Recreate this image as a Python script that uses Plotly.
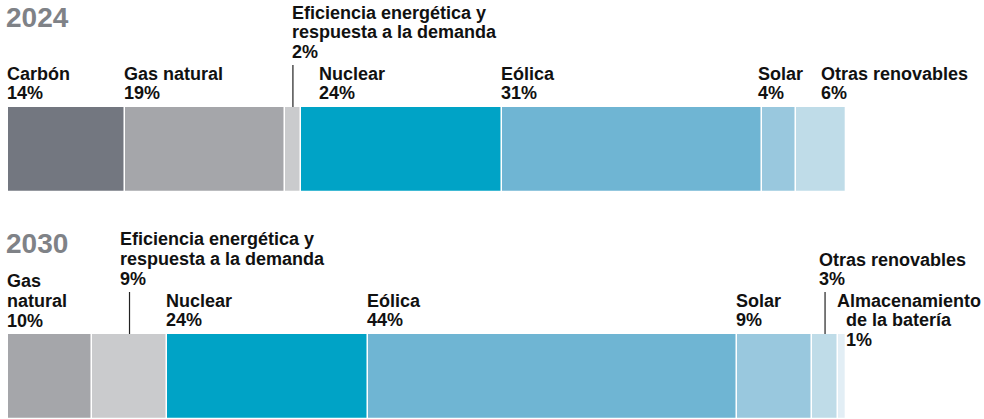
import numpy as np
import plotly.graph_objects as go

# ---------------- data ----------------
years = ["2024", "2030"]

cats_2024 = ["Carbón", "Gas natural", "Eficiencia energética y respuesta a la demanda",
             "Nuclear", "Eólica", "Solar", "Otras renovables"]
vals_2024 = [14, 19, 2, 24, 31, 4, 6]

cats_2030 = ["Gas natural", "Eficiencia energética y respuesta a la demanda",
             "Nuclear", "Eólica", "Solar", "Otras renovables", "Almacenamiento de la batería"]
vals_2030 = [10, 9, 24, 44, 9, 3, 1]

# ---------------- styles ----------------
colors = {
    "Carbón": "#737780",
    "Gas natural": "#a5a6aa",
    "Eficiencia energética y respuesta a la demanda": "#cacbcd",
    "Nuclear": "#00a3c6",
    "Eólica": "#6fb5d3",
    "Solar": "#99c8de",
    "Otras renovables": "#bfdce8",
    "Almacenamiento de la batería": "#e2eef5",
}

W, H = 984, 419
X0_PX, X100_PX = 8, 846  # bar extent in pixels
SCALE = (X100_PX - X0_PX) / 100.0
FONT = "Liberation Sans"
LBL_SIZE = 18
TITLE_SIZE = 28
TXT = "#111111"
TITLE_C = "#7f8287"
BASE_K = 6.2  # baseline -> middle offset (px) at 18px

# bar geometry (pixel space on y)
bar_top = {"2024": 107, "2030": 334}
bar_h = 85
title_base = {"2024": 27, "2030": 253}

# label layout: category -> (lines, first baseline offset from bar top, x offset px)
lay_2024 = {
    "Carbón": (["Carbón"], -27, 0),
    "Gas natural": (["Gas natural"], -27, 0),
    "Eficiencia energética y respuesta a la demanda":
        (["Eficiencia energética y", "respuesta a la demanda"], -88, "center"),
    "Nuclear": (["Nuclear"], -27, 19),
    "Eólica": (["Eólica"], -27, 0),
    "Solar": (["Solar"], -27, -3),
    "Otras renovables": (["Otras renovables"], -27, 26),
}
lay_2030 = {
    "Gas natural": (["Gas", "natural"], -46.5, 0),
    "Eficiencia energética y respuesta a la demanda":
        (["Eficiencia energética y", "respuesta a la demanda"], -88.5, 29),
    "Nuclear": (["Nuclear"], -27, 0),
    "Eólica": (["Eólica"], -27, 0),
    "Solar": (["Solar"], -27, 0),
    "Otras renovables": (["Otras renovables"], -68, 7.5),
    "Almacenamiento de la batería": (["Almacenamiento"], -27, 0),
}
LINE_H = 19.6
leaders = {"2024": ["Eficiencia energética y respuesta a la demanda"],
           "2030": ["Eficiencia energética y respuesta a la demanda", "Otras renovables"]}
leader_len = 42

fig = go.Figure()
annotations = []
shapes = []

def add_text(x, xshift, baseline, text, size=LBL_SIZE, color=TXT):
    annotations.append(dict(
        x=x, y=baseline - BASE_K * size / 18.0, xref="x", yref="y",
        xanchor="left", yanchor="middle", xshift=xshift - 1,
        text=text, showarrow=False, borderpad=0, borderwidth=0,
        font=dict(family=FONT, size=size, color=color, weight="bold"),
        align="left"))

for yr, cats, vals, lay in [("2024", cats_2024, vals_2024, lay_2024),
                            ("2030", cats_2030, vals_2030, lay_2030)]:
    vals_a = np.array(vals, dtype=float)
    starts = np.concatenate([[0], np.cumsum(vals_a)[:-1]])
    yc = bar_top[yr] + bar_h / 2
    fig.add_trace(go.Bar(
        orientation="h", x=vals_a, base=starts, y=[yc] * len(vals), width=bar_h,
        marker=dict(color=[colors[c] for c in cats], line=dict(color="white", width=1.3)),
        hoverinfo="skip", showlegend=False))
    add_text(starts[0], -1, title_base[yr], yr, size=TITLE_SIZE, color=TITLE_C)
    for c, v, s in zip(cats, vals, starts):
        lines, b0, xo = lay[c]
        if xo == "center":
            xpos, xs = s + v / 2, 0.5
        else:
            xpos, xs = s, xo
        b = bar_top[yr] + b0
        for ln in lines:
            add_text(xpos, xs, b, ln)
            b += LINE_H
        if c == "Almacenamiento de la batería":
            add_text(xpos, 9, b, "de la batería")
            b += LINE_H
            add_text(xpos, 9, b, f"{v}%")
        else:
            add_text(xpos, xs, b, f"{v}%")
        if c in leaders[yr]:
            xm = s + v / 2
            shapes.append(dict(type="line", xref="x", yref="y", x0=xm, x1=xm,
                               y0=bar_top[yr] - leader_len, y1=bar_top[yr],
                               line=dict(color="#222222", width=1.2)))

fig.update_layout(
    width=W, height=H, margin=dict(l=0, r=0, t=0, b=0),
    paper_bgcolor="white", plot_bgcolor="white",
    barmode="overlay", bargap=0,
    xaxis=dict(range=[-X0_PX / SCALE, (W - X0_PX) / SCALE], visible=False, fixedrange=True),
    yaxis=dict(range=[H, 0], visible=False, fixedrange=True),
    annotations=annotations, shapes=shapes,
)
fig.write_html("out.html", config={"displayModeBar": False},
               post_script="document.body.style.margin='0';")
